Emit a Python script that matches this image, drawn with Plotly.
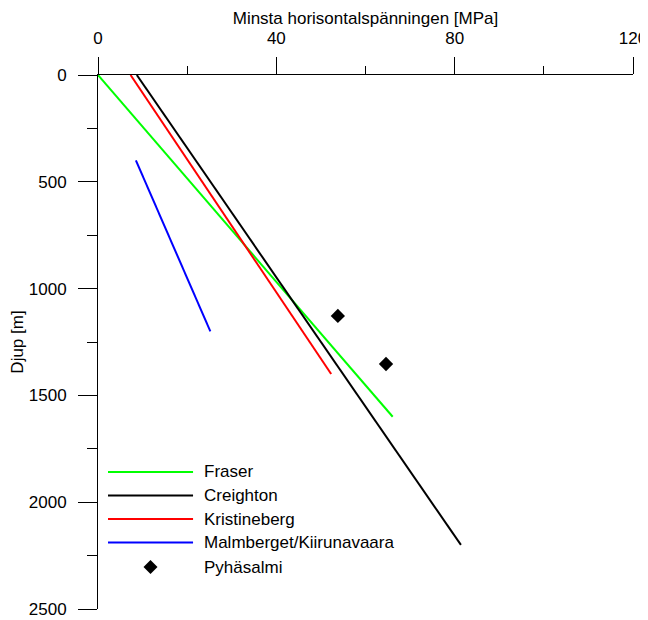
import plotly.graph_objects as go

# Data (stress in MPa, depth in m)
series_names = ["Fraser", "Creighton", "Kristineberg", "Malmberget/Kiirunavaara"]
fraser_x = [0, 66.1]
fraser_y = [0, 1600]
creighton_x = [8.7, 81.4]
creighton_y = [0, 2200]
kristineberg_x = [7.3, 52.3]
kristineberg_y = [0, 1400]
malmberget_x = [8.5, 25.2]
malmberget_y = [400, 1200]
pyhasalmi_x = [53.8, 64.6]
pyhasalmi_y = [1128, 1353]
pyhasalmi_name = "Pyhäsalmi"

colors = ["#00FF00", "#000000", "#FF0000", "#0000FF"]
xs = [fraser_x, creighton_x, kristineberg_x, malmberget_x]
ys = [fraser_y, creighton_y, kristineberg_y, malmberget_y]

FONT = "Liberation Sans, Arial, sans-serif"
FS = 17

fig = go.Figure()
for name, x, y, c in zip(series_names, xs, ys, colors):
    fig.add_trace(go.Scatter(x=x, y=y, mode="lines", name=name,
                             line=dict(color=c, width=2), showlegend=False))
fig.add_trace(go.Scatter(x=pyhasalmi_x, y=pyhasalmi_y, mode="markers", name=pyhasalmi_name,
                         marker=dict(symbol="diamond", size=11, color="black"),
                         showlegend=False))

# Page offset (body margin) and plot-area geometry in page pixels
OFF = 8
X0, X1 = 98, 632.7
Y0, Y1 = 75, 609
W = X1 - X0
H = Y1 - Y0
def px(xp):
    return (xp - X0) / W
def py(yp):
    return (Y1 - yp) / H

# Manual legend (paper coordinates)
rows = [472, 495.5, 519, 542.5]
for name, c, r in zip(series_names, colors, rows):
    fig.add_shape(type="line", xref="paper", yref="paper",
                  x0=px(108), x1=px(193), y0=py(r), y1=py(r),
                  line=dict(color=c, width=2))
    fig.add_annotation(xref="paper", yref="paper", x=px(202), y=py(r),
                       text=name, showarrow=False, xanchor="left", yanchor="middle",
                       font=dict(family=FONT, size=FS, color="black"))
r = 567
fig.add_shape(type="path", xref="paper", yref="paper",
              xsizemode="pixel", ysizemode="pixel",
              xanchor=px(150.5), yanchor=py(r),
              path="M 0 7 L 7 0 L 0 -7 L -7 0 Z",
              fillcolor="black", line=dict(color="black", width=0))
fig.add_annotation(xref="paper", yref="paper", x=px(202), y=py(r),
                   text=pyhasalmi_name, showarrow=False, xanchor="left", yanchor="middle",
                   font=dict(family=FONT, size=FS, color="black"))

FW, FH = 648 - OFF, 620 - OFF
fig.update_layout(
    width=FW, height=FH,
    margin=dict(l=X0 - OFF, r=FW - (X1 - OFF), t=Y0 - OFF, b=FH - (Y1 - OFF)),
    paper_bgcolor="white", plot_bgcolor="white",
    font=dict(family=FONT, size=FS, color="black"),
    showlegend=False,
)
fig.update_xaxes(
    side="top", range=[0, 120], dtick=40, tick0=0, automargin=False,
    showgrid=False, zeroline=False,
    showline=True, linecolor="black", linewidth=1,
    ticks="outside", ticklen=17, tickcolor="black", tickwidth=1,
    ticklabelstandoff=6,
    minor=dict(dtick=20, ticks="outside", ticklen=8, tickcolor="black", showgrid=False),
    title=dict(text="Minsta horisontalspänningen [MPa]", font=dict(size=FS), standoff=0),
    tickfont=dict(size=FS),
)
fig.update_yaxes(
    range=[2500, 0], dtick=500, tick0=0, automargin=False,
    showgrid=False, zeroline=False,
    showline=True, linecolor="black", linewidth=1,
    ticks="outside", ticklen=19, tickcolor="black", tickwidth=1,
    ticklabelstandoff=8,
    minor=dict(dtick=250, ticks="outside", ticklen=10, tickcolor="black", showgrid=False),
    title=dict(text="Djup [m]", font=dict(size=FS), standoff=8),
    tickfont=dict(size=FS),
)

fig.write_html(
    "out.html",
    post_script="document.documentElement.style.overflow='hidden';document.body.style.overflow='hidden';",
)
